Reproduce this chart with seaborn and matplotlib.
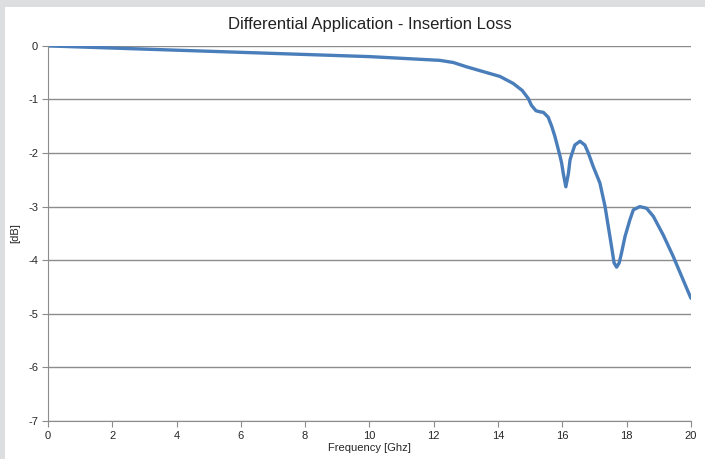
import seaborn as sns
import matplotlib.pyplot as plt
import pandas as pd

freq = [0, 2, 4, 6, 8, 10, 10.95, 12.19, 12.61, 13.02, 13.54, 14.06, 14.47, 14.75, 14.94, 15.04,
        15.18, 15.30, 15.41, 15.56, 15.67, 15.77, 15.93, 15.98, 16.03, 16.11, 16.19, 16.24,
        16.29, 16.39, 16.55, 16.70, 16.81, 16.96, 17.17, 17.33, 17.43, 17.53, 17.61, 17.69,
        17.77, 17.84, 17.95, 18.10, 18.21, 18.41, 18.62, 18.83, 19.14, 19.45, 20.0]
loss = [0, -0.04, -0.08, -0.12, -0.16, -0.2, -0.23, -0.27, -0.31, -0.39, -0.48, -0.57, -0.70,
        -0.83, -0.98, -1.11, -1.21, -1.23, -1.24, -1.33, -1.50, -1.69, -2.06, -2.19, -2.38,
        -2.63, -2.38, -2.13, -2.03, -1.85, -1.78, -1.85, -2.0, -2.25, -2.56, -3.0, -3.37,
        -3.74, -4.05, -4.13, -4.05, -3.87, -3.56, -3.25, -3.06, -3.0, -3.03, -3.18, -3.53,
        -3.93, -4.71]

df = pd.DataFrame({"Frequency": freq, "dB": loss})

sns.set_style("white")
plt.rcParams['font.family'] = ['Liberation Sans', 'DejaVu Sans']
plt.rcParams['axes.unicode_minus'] = False

fig = plt.figure(figsize=(7.05, 4.59), dpi=100)
fig.patch.set_facecolor("#dcdee0")
fig.patches.append(plt.Rectangle((0.007, 0.0), 0.993, 0.985, transform=fig.transFigure,
                                 facecolor="white", edgecolor="none", zorder=-10))
ax = fig.add_axes([0.068, 0.083, 0.912, 0.817])
ax.set_facecolor("white")

sns.lineplot(x="Frequency", y="dB", data=df, ax=ax, color="#4a7ebb", linewidth=2.4,
             solid_joinstyle="round")

ax.set_xlim(0, 20)
ax.set_ylim(-7, 0)
ax.set_xticks(range(0, 21, 2))
ax.set_yticks(range(-7, 1))
ax.yaxis.grid(True, color="#8c8c8c", linewidth=1)
ax.set_axisbelow(True)
for s in ["top", "right"]:
    ax.spines[s].set_visible(False)
for s in ["left", "bottom"]:
    ax.spines[s].set_color("#8c8c8c")
ax.tick_params(axis="both", length=4, color="#8c8c8c", labelsize=8, direction="out",
               left=True, bottom=True, pad=3)
ax.set_xlabel("Frequency [Ghz]", fontsize=8, labelpad=2)
ax.set_ylabel("[dB]", fontsize=8, labelpad=6)
ax.set_title("Differential Application - Insertion Loss", fontsize=12, pad=12, color="#222222")

fig.savefig("out.png", dpi=100)
